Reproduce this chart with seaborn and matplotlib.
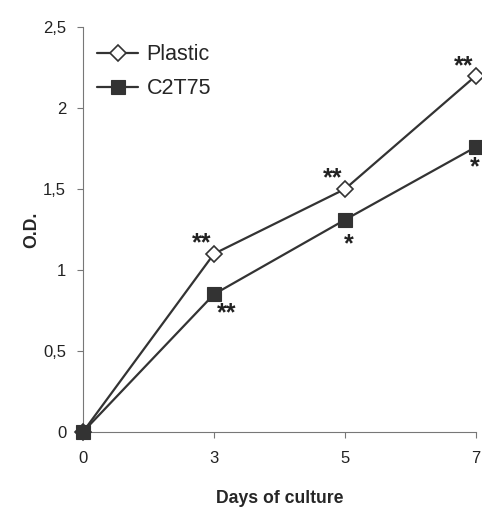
import numpy as np
import pandas as pd
import matplotlib
matplotlib.use('Agg')
import matplotlib.pyplot as plt
import seaborn as sns

# Data
days = ['0', '3', '5', '7']
plastic = [0, 1.1, 1.5, 2.2]
c2t75 = [0, 0.85, 1.31, 1.76]
plastic_stars = ['', '**', '**', '**']
c2t75_stars = ['', '**', '*', '*']

sns.set_style('white')
plt.rcParams['font.family'] = ['Liberation Sans', 'DejaVu Sans']

col = '#333333'
pos = np.arange(len(days))
df = pd.DataFrame({'pos': np.concatenate([pos, pos]),
                   'od': plastic + c2t75,
                   'series': ['Plastic'] * len(days) + ['C2T75'] * len(days)})

fig = plt.figure(figsize=(4.82, 5.11), dpi=100)
ax = fig.add_axes([0.172, 0.1546, 0.8156, 0.7925])

sns.lineplot(data=df[df.series == 'Plastic'], x='pos', y='od', ax=ax, color=col,
             lw=1.6, marker='D', markersize=7.8, markerfacecolor='white',
             markeredgecolor=col, markeredgewidth=1.2, label='Plastic', clip_on=False, zorder=3)
sns.lineplot(data=df[df.series == 'C2T75'], x='pos', y='od', ax=ax, color=col,
             lw=1.6, marker='s', markersize=9.5, markerfacecolor=col,
             markeredgecolor=col, markeredgewidth=0.8, label='C2T75', clip_on=False, zorder=4)

# significance stars (offsets in points from each marker, star baseline)
def stars(vals, labels, offsets):
    for i, s in enumerate(labels):
        if s:
            dx, dy = offsets[i]
            ax.annotate(s, (pos[i], vals[i]), xytext=(dx, dy), textcoords='offset points',
                        ha='center', va='baseline', fontsize=18, fontweight='bold',
                        color='#222222', annotation_clip=False)

stars(plastic, plastic_stars, [None, (-9, 2.5), (-9, 2.5), (-9, 1.5)])
stars(c2t75, c2t75_stars, [None, (9, -18.5), (3, -23), (-1, -20)])

ax.set_xlim(0, 3)
ax.set_ylim(0, 2.5)
ax.set_xticks(pos)
ax.set_xticklabels(days)
yt = np.arange(0, 2.51, 0.5)
ax.set_yticks(yt)
ax.set_yticklabels([('%g' % v).replace('.', ',') for v in yt])
ax.tick_params(axis='both', direction='out', length=4, width=0.8, color='#777777',
               labelsize=12, labelcolor='#222222', bottom=True, left=True)
ax.tick_params(axis='x', pad=10)
ax.tick_params(axis='y', pad=8)
for side in ['top', 'right']:
    ax.spines[side].set_visible(False)
for side in ['left', 'bottom']:
    ax.spines[side].set_color('#777777')
    ax.spines[side].set_linewidth(0.8)

ax.set_xlabel('Days of culture', fontsize=12.7, fontweight='bold', labelpad=17)
ax.set_ylabel('O.D.', fontsize=12.7, fontweight='bold', labelpad=2)

ax.legend(loc='upper left', bbox_to_anchor=(0.036, 0.958), frameon=False, fontsize=15.5,
          handlelength=1.9, handletextpad=0.4, labelspacing=0.62, borderaxespad=0,
          borderpad=0)

fig.savefig('out.png', dpi=100)
